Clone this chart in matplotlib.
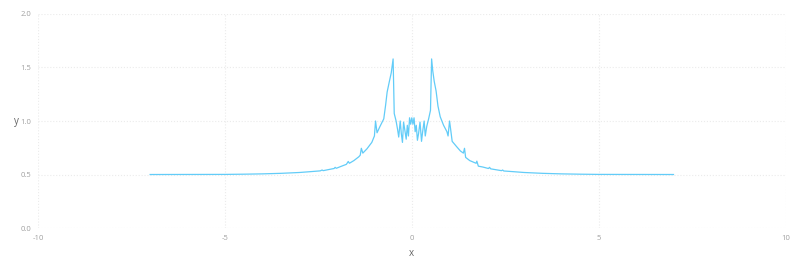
import matplotlib
matplotlib.use("Agg")
import matplotlib.pyplot as plt

x_vals = [-7.0, -5.0, -4.5, -4.0, -3.5, -3.0, -2.7, -2.45, -2.4, -2.37, -2.2, -2.08, -2.05, -2.02,
          -1.9, -1.75, -1.7, -1.67, -1.55, -1.42, -1.38, -1.35, -1.31, -1.2, -1.07, -1.0, -0.97,
          -0.93, -0.85, -0.75, -0.70, -0.66, -0.6, -0.55, -0.50, -0.47, -0.42, -0.38, -0.35, -0.31,
          -0.28, -0.25, -0.22, -0.18, -0.15, -0.12, -0.09, -0.06, -0.03, 0.0,
          0.03, 0.06, 0.09, 0.12, 0.15, 0.18, 0.22, 0.26, 0.29, 0.33, 0.36, 0.40, 0.45, 0.50,
          0.53, 0.56, 0.60, 0.65, 0.70, 0.76, 0.85, 0.94, 0.97, 1.01, 1.04, 1.08, 1.2, 1.3,
          1.38, 1.41, 1.44, 1.55, 1.72, 1.74, 1.78, 1.9, 2.05, 2.08, 2.11, 2.4, 2.43, 2.46,
          2.7, 3.0, 3.5, 4.0, 4.5, 5.0, 7.0]
y_vals = [0.5, 0.501, 0.503, 0.506, 0.511, 0.519, 0.527, 0.534, 0.542, 0.536, 0.548, 0.556, 0.567, 0.558,
          0.575, 0.595, 0.622, 0.605, 0.63, 0.665, 0.68, 0.745, 0.70, 0.74, 0.80, 0.86, 1.00,
          0.89, 0.95, 1.02, 1.15, 1.27, 1.37, 1.45, 1.58, 1.07, 1.0, 0.92, 0.85, 1.0,
          0.88, 0.80, 0.99, 0.90, 0.83, 0.96, 0.86, 1.03, 0.97, 1.03,
          0.97, 1.03, 0.90, 0.96, 0.82, 0.88, 0.99, 0.81, 0.90, 1.0, 0.86, 0.95, 1.02, 1.10,
          1.58, 1.47, 1.37, 1.28, 1.14, 1.04, 0.96, 0.90, 0.86, 1.00, 0.92, 0.81, 0.76, 0.72,
          0.70, 0.745, 0.66, 0.63, 0.605, 0.625, 0.578, 0.57, 0.556, 0.567, 0.553, 0.536, 0.542, 0.533,
          0.527, 0.519, 0.511, 0.506, 0.503, 0.501, 0.5]

x_ticks = [-10, -5, 0, 5, 10]
y_ticks = [0.0, 0.5, 1.0, 1.5, 2.0]
y_tick_labels = ["0.0", "0.5", "1.0", "1.5", "2.0"]

plt.rcParams['font.family'] = ['Open Sans', 'DejaVu Sans']
fig = plt.figure(figsize=(8, 2.67), dpi=100)
ax = fig.add_axes([0.0475, 0.146, 0.9345, 0.8016])
ax.plot(x_vals, y_vals, color='#62ccf8', linewidth=0.9)
ax.set_xlim(-10, 10)
ax.set_ylim(0, 2)
ax.set_xticks(x_ticks)
ax.set_xticklabels([str(t) for t in x_ticks])
ax.set_yticks(y_ticks)
ax.set_yticklabels(y_tick_labels)
for s in ax.spines.values():
    s.set_visible(False)
ax.grid(True, color='#ebebeb', linestyle=':', linewidth=0.8)
ax.tick_params(length=0, labelsize=5.5, labelcolor='#a0a0a0', pad=5)
ax.set_xlabel('x', fontsize=7, color='#666666', labelpad=4)
ax.set_ylabel('y', fontsize=7, color='#666666', rotation=0, labelpad=3, va='center')
fig.savefig('out.png', dpi=100, facecolor='white')
